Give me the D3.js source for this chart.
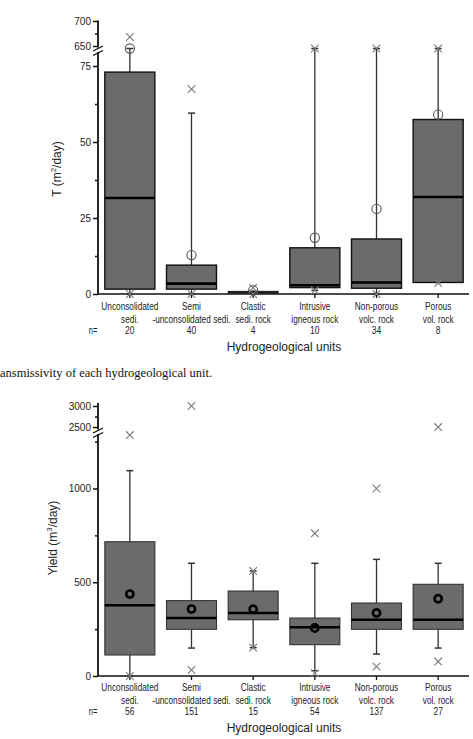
<!DOCTYPE html>
<html>
<head>
<meta charset="utf-8">
<script src="https://cdn.jsdelivr.net/npm/d3@7/dist/d3.min.js"></script>
<style>
  html, body { margin: 0; padding: 0; background: #fff; }
  svg { display: block; }
</style>
</head>
<body>
<svg id="chart" width="473" height="739"></svg>
<script>
// ---------- DATA ----------
const catLine1 = ["Unconsolidated", "Semi", "Clastic", "Intrusive", "Non-porous", "Porous"];
const catLine2 = ["sedi.", "-unconsolidated sedi.", "sedi. rock", "igneous rock", "volc. rock", "vol. rock"];

// Transmissivity T (m2/day)
const tN       = [20, 40, 4, 10, 34, 8];
const tLow     = [0, 0, 0, 1.2, 0, 3.8];
const tQ1      = [1.6, 1.6, 0.3, 2.1, 1.9, 3.8];
const tMedian  = [31.6, 3.4, 0.6, 2.9, 3.8, 31.9];
const tQ3      = [73, 9.5, 0.9, 15.2, 18.1, 57.4];
const tHigh    = [645, 59.5, 0.9, 645, 645, 645];
const tCircle  = [645, 12.8, 1.2, 18.5, 28, 59];
const tCross   = [[668, 0], [67.4, 0], [2.0, 0], [645, 1.2], [645, 0], [645, 3.6]];
const tMajorTicks = [0, 25, 50, 75, 650, 700];
const tMinorTicks = [12.5, 37.5, 62.5, 675];

// Yield (m3/day)
const yN       = [56, 151, 15, 54, 137, 27];
const yLow     = [0, 149, 151, 28, 117, 149];
const yQ1      = [112, 249, 300, 167, 249, 249];
const yMedian  = [377, 309, 336, 260, 300, 300];
const yQ3      = [716, 402, 453, 309, 389, 489];
const yHigh    = [1095, 601, 560, 601, 622, 601];
const yMean    = [437, 357, 356, 256, 336, 412];
const yCross   = [[1285, 0], [3000, 32], [560, 151], [761, 15], [1000, 50], [2500, 77]];
const yMajorTicks = [0, 500, 1000, 2500, 3000];
const yMinorTicks = [250, 750, 1250, 2750];

// ---------- DRAW ----------
const svg = d3.select("#chart");
const idx = d3.range(catLine1.length);
const x = d3.scaleBand().domain(idx).range([99, 469]).padding(0);
const boxW = 50;
const sans = "'Liberation Sans', Arial, sans-serif";

function condensedText(g, cx, cy, txt, size, sx) {
  g.append("text")
    .attr("transform", `translate(${cx},${cy}) scale(${sx},1)`)
    .attr("text-anchor", "middle").attr("font-family", sans)
    .attr("font-size", size).attr("fill", "#222").text(txt);
}

function drawPanel(cfg) {
  const g = svg.append("g");
  const y = cfg.y;
  const axisX = 98;

  // y axis line segments with break
  g.append("line").attr("x1", axisX).attr("x2", axisX)
    .attr("y1", cfg.axisTop).attr("y2", cfg.breakA)
    .attr("stroke", "#111").attr("stroke-width", 1.8);
  g.append("line").attr("x1", axisX).attr("x2", axisX)
    .attr("y1", cfg.breakB).attr("y2", y(0))
    .attr("stroke", "#111").attr("stroke-width", 1.8);
  [cfg.breakA + 1.5, cfg.breakB + 1.5].forEach(yy => {
    g.append("line").attr("x1", axisX - 5).attr("y1", yy + 2)
      .attr("x2", axisX + 5).attr("y2", yy - 3)
      .attr("stroke", "#111").attr("stroke-width", 1.3);
  });

  const ax = d3.axisLeft(y).tickValues(cfg.major).tickSize(5).tickPadding(2)
    .tickFormat(d3.format("d"));
  const axG = g.append("g").attr("transform", `translate(${axisX},0)`).call(ax);
  axG.select(".domain").remove();
  axG.selectAll(".tick line").attr("stroke", "#111").attr("stroke-width", 1.5);
  axG.selectAll(".tick text").attr("font-size", 10).attr("fill", "#222")
    .attr("font-family", sans);
  const axm = d3.axisLeft(y).tickValues(cfg.minor).tickSize(3).tickFormat("");
  const axmG = g.append("g").attr("transform", `translate(${axisX},0)`).call(axm);
  axmG.select(".domain").remove();
  axmG.selectAll(".tick line").attr("stroke", "#111").attr("stroke-width", 1.5);

  // x axis line
  g.append("line").attr("x1", axisX).attr("x2", 469)
    .attr("y1", y(0)).attr("y2", y(0))
    .attr("stroke", "#111").attr("stroke-width", 1.6);
  idx.forEach(i => {
    const cx = x(i) + x.bandwidth() / 2;
    g.append("line").attr("x1", cx).attr("x2", cx)
      .attr("y1", y(0)).attr("y2", y(0) + 4)
      .attr("stroke", "#111").attr("stroke-width", 1.3);
  });

  idx.forEach(i => {
    const cx = x(i) + x.bandwidth() / 2;
    const wc = cfg.whiskerColor;
    g.append("line").attr("x1", cx).attr("x2", cx)
      .attr("y1", y(cfg.q3[i])).attr("y2", y(cfg.high[i]))
      .attr("stroke", wc).attr("stroke-width", 1.3);
    g.append("line").attr("x1", cx).attr("x2", cx)
      .attr("y1", y(cfg.q1[i])).attr("y2", y(cfg.low[i]))
      .attr("stroke", wc).attr("stroke-width", 1.3);
    [cfg.high[i], cfg.low[i]].forEach(v => {
      g.append("line").attr("x1", cx - 3.5).attr("x2", cx + 3.5)
        .attr("y1", y(v)).attr("y2", y(v))
        .attr("stroke", wc).attr("stroke-width", 1.5);
    });
    const hgt = y(cfg.q1[i]) - y(cfg.q3[i]);
    g.append("rect").attr("x", cx - boxW / 2).attr("width", boxW)
      .attr("y", y(cfg.q3[i])).attr("height", hgt)
      .attr("fill", "#6b6b6b").attr("stroke", cfg.boxStroke)
      .attr("stroke-width", hgt < 4 ? 0.8 : cfg.boxStrokeW);
    g.append("line").attr("x1", cx - boxW / 2).attr("x2", cx + boxW / 2)
      .attr("y1", y(cfg.median[i])).attr("y2", y(cfg.median[i]))
      .attr("stroke", "#000").attr("stroke-width", hgt < 4 ? 1 : cfg.medianW);
    cfg.cross[i].forEach(v => {
      const yy = y(v), s = 3.8;
      g.append("path")
        .attr("d", `M${cx - s},${yy - s}L${cx + s},${yy + s}M${cx - s},${yy + s}L${cx + s},${yy - s}`)
        .attr("stroke", "#7a7a7a").attr("stroke-width", 1.1).attr("fill", "none");
    });
    g.append("circle").attr("cx", cx).attr("cy", y(cfg.circle[i]))
      .attr("r", cfg.circleR).attr("fill", "none")
      .attr("stroke", cfg.circleStroke).attr("stroke-width", cfg.circleW);
  });

  // category labels (condensed)
  idx.forEach(i => {
    const cx = x(i) + x.bandwidth() / 2;
    condensedText(g, cx, cfg.labelY, catLine1[i], 11.5, 0.72);
    condensedText(g, cx, cfg.labelY + 12.5, catLine2[i], 11.5, 0.72);
    condensedText(g, cx, cfg.labelY + 23.5, cfg.n[i], 10, 0.85);
  });
  condensedText(g, 93, cfg.labelY + 23.5, "n=", 10, 0.75);

  g.append("text").attr("x", 284).attr("y", cfg.labelY + 41)
    .attr("text-anchor", "middle").attr("font-family", sans)
    .attr("font-size", 12).attr("fill", "#222").text("Hydrogeological units");

  const yt = g.append("text")
    .attr("transform", `translate(${cfg.yTitleX},${cfg.yTitleY}) rotate(-90)`)
    .attr("text-anchor", "middle").attr("font-family", sans)
    .attr("font-size", 12).attr("fill", "#222");
  yt.append("tspan").text(cfg.yTitle[0]);
  yt.append("tspan").attr("font-size", 8).attr("dy", -5).text(cfg.yTitle[1]);
  yt.append("tspan").attr("dy", 5).text(cfg.yTitle[2]);
}

const yT = d3.scaleLinear().domain([0, 78, 640, 700]).range([294, 56.9, 51, 21]);
drawPanel({
  y: yT, axisTop: 20.5, breakA: 47.5, breakB: 52,
  major: tMajorTicks, minor: tMinorTicks,
  low: tLow, q1: tQ1, median: tMedian, q3: tQ3, high: tHigh,
  circle: tCircle, cross: tCross, n: tN,
  whiskerColor: "#333", boxStroke: "#111", boxStrokeW: 1.4, medianW: 2.6,
  circleR: 4.6, circleStroke: "#555", circleW: 1.1,
  labelY: 310, yTitleX: 61, yTitleY: 169, yTitle: ["T (m", "2", "/day)"]
});

svg.append("text").attr("x", 0).attr("y", 377)
  .attr("font-family", "'Liberation Serif', 'Times New Roman', serif")
  .attr("font-size", 12.5).attr("fill", "#111")
  .text("ansmissivity of each hydrogeological unit.");

const yY = d3.scaleLinear().domain([0, 1290, 2420, 3060]).range([676, 434.1, 430.4, 403.5]);
drawPanel({
  y: yY, axisTop: 403, breakA: 429.5, breakB: 434,
  major: yMajorTicks, minor: yMinorTicks,
  low: yLow, q1: yQ1, median: yMedian, q3: yQ3, high: yHigh,
  circle: yMean, cross: yCross, n: yN,
  whiskerColor: "#333", boxStroke: "#333", boxStrokeW: 1.1, medianW: 2.4,
  circleR: 3.6, circleStroke: "#000", circleW: 2.6,
  labelY: 691, yTitleX: 57, yTitleY: 538, yTitle: ["Yield (m", "3", "/day)"]
});
</script>
</body>
</html>
